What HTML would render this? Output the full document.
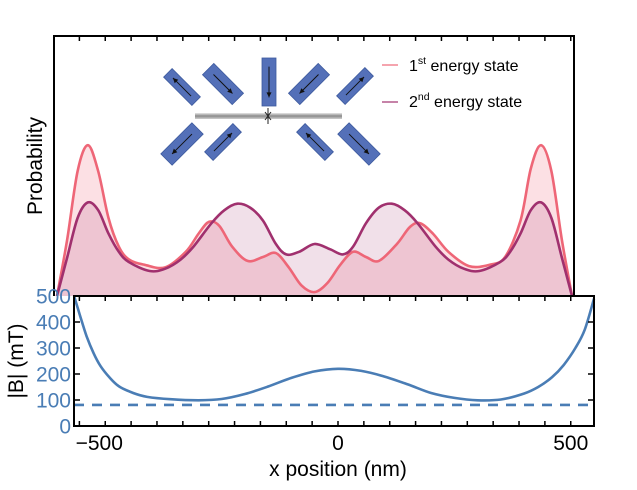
<!DOCTYPE html>
<html><head><meta charset="utf-8">
<style>
html,body{margin:0;padding:0;background:#fff;}
svg{display:block;font-family:"Liberation Sans",Arial,sans-serif;}
</style></head>
<body>
<svg id="chart" width="637" height="490" viewBox="0 0 637 490" xmlns="http://www.w3.org/2000/svg">
  <g id="upper"></g>
  <g id="inset"></g>
  <g id="legend">
    <line x1="382" y1="65" x2="398" y2="65" stroke="#ee6677" stroke-width="1.2"/>
    <text x="409" y="71" font-size="16">1<tspan font-size="10.5" dy="-7">st</tspan><tspan dy="7"> energy state</tspan></text>
    <line x1="382" y1="102" x2="398" y2="102" stroke="#a0306e" stroke-width="1.2"/>
    <text x="409" y="107" font-size="16">2<tspan font-size="10.5" dy="-7">nd</tspan><tspan dy="7"> energy state</tspan></text>
  </g>
  <g id="lower"></g>
  <text transform="translate(42,166) rotate(-90)" text-anchor="middle" font-size="21">Probability</text>
  <text transform="translate(23,361) rotate(-90)" text-anchor="middle" font-size="21">|B| (mT)</text>
  <text x="338" y="476" text-anchor="middle" font-size="21">x position (nm)</text>
</svg>
<script>
// ---- data ----
const probX1 = [-500,-480,-460,-440,-420,-400,-380,-360,-330,-290,-250,-225,-205,-185,-160,-130,-100,-75,-50,-25,0,25,50,75,100,125,160,185,205,230,260,300,340,370,400,420,440,460,480,500];
const probFirst = [0,0.22,0.48,0.58,0.48,0.30,0.19,0.14,0.12,0.11,0.17,0.24,0.285,0.27,0.19,0.135,0.15,0.165,0.11,0.04,0.015,0.05,0.12,0.17,0.15,0.135,0.20,0.265,0.28,0.24,0.17,0.115,0.12,0.15,0.29,0.49,0.58,0.48,0.22,0];
const probX2 = [-500,-480,-460,-440,-420,-400,-380,-360,-320,-290,-260,-235,-200,-175,-150,-125,-100,-75,-55,-30,0,30,55,75,100,125,150,175,200,235,260,290,320,360,380,400,420,440,460,480,500];
const probSecond = [0,0.15,0.30,0.36,0.33,0.24,0.17,0.13,0.096,0.105,0.14,0.19,0.28,0.33,0.355,0.34,0.29,0.20,0.16,0.17,0.20,0.18,0.16,0.19,0.28,0.34,0.355,0.33,0.28,0.19,0.14,0.105,0.096,0.13,0.17,0.24,0.33,0.36,0.30,0.15,0];
const fieldX = [-567,-555,-540,-525,-510,-490,-470,-440,-410,-360,-300,-250,-200,-150,-100,-50,0,50,100,150,200,250,300,350,400,430,460,485,510,530,550];
const fieldB = [500,430,345,280,230,185,152,127,112,103,99,104,123,152,185,210,220,212,190,160,127,108,99,102,125,150,188,235,300,370,490];
const thresholdB = 81;
const yTicks = [0,100,200,300,400,500];
const xTickLabels = [-500,0,500];

const NS="http://www.w3.org/2000/svg";
function mk(tag, attrs, parent){const e=document.createElementNS(NS,tag);for(const k in attrs)e.setAttribute(k,attrs[k]);parent.appendChild(e);return e;}

const upX = u => 57 + (u+500)*0.515;
const upY = p => 296 - p*260;
const loX = x => 338 + x*0.4655;
const loY = b => 426 - b*0.26;

function smoothPath(pts){
  let d = `M${pts[0][0]},${pts[0][1]}`;
  for(let i=0;i<pts.length-1;i++){
    const p0=pts[i-1]||pts[i], p1=pts[i], p2=pts[i+1], p3=pts[i+2]||p2;
    const c1=[p1[0]+(p2[0]-p0[0])/6, p1[1]+(p2[1]-p0[1])/6];
    const c2=[p2[0]-(p3[0]-p1[0])/6, p2[1]-(p3[1]-p1[1])/6];
    d += ` C${c1[0].toFixed(1)},${c1[1].toFixed(1)} ${c2[0].toFixed(1)},${c2[1].toFixed(1)} ${p2[0].toFixed(1)},${p2[1].toFixed(1)}`;
  }
  return d;
}

// ---- upper panel ----
const up = document.getElementById('upper');
const pts1 = probX1.map((u,i)=>[upX(u),upY(probFirst[i])]);
const pts2 = probX2.map((u,i)=>[upX(u),upY(probSecond[i])]);
const d1 = smoothPath(pts1), d2 = smoothPath(pts2);
const f1 = mk('path',{d:d1+` L${upX(500)},296 L${upX(-500)},296 Z`,fill:'#f06478','fill-opacity':'0.2',stroke:'none'},up);


const f2 = mk('path',{d:d2+` L${upX(500)},296 L${upX(-500)},296 Z`,fill:'#a0306e','fill-opacity':'0.15',stroke:'none'},up);


const l1 = mk('path',{d:d1,fill:'none',stroke:'#ee6677','stroke-width':'2.6'},up);


const l2 = mk('path',{d:d2,fill:'none',stroke:'#a0306e','stroke-width':'2.6'},up);


const upFrame = mk('path',{d:'M54,296 L54,36 L574,36 L574,296',fill:'none',stroke:'#000','stroke-width':'2'},up);


for(let k=-2;k<=19;k++){
  const px = loX(-500 + k*1000/18);
  if(px>56 && px<572){
    const t = mk('line',{x1:px,y1:36,x2:px,y2:41,stroke:'#000','stroke-width':'1.5'},up);
    
    
  }
}

// ---- inset magnets ----
const ins = document.getElementById('inset');
const barG = mk('linearGradient',{id:'barg',x1:0,y1:0,x2:0,y2:1},ins);
[['0','#e8e8e8'],['0.5','#8a8a8a'],['1','#d0d0d0']].forEach(s=>mk('stop',{offset:s[0],'stop-color':s[1]},barG));
const bar = mk('rect',{x:195,y:113,width:147,height:6,fill:'url(#barg)'},ins);


mk('path',{d:'M268,108 L268,124 M265,112 L271,120 M271,112 L265,120',stroke:'#222','stroke-width':'1'},ins);
const magnets = [
  [182,87,45,40,12,-1],[223,84,45,42,16,1],[269,82,90,48,14,1],[309,84,-45,42,16,-1],[355,86,-45,40,12,1],
  [182,144,-45,44,16,-1],[223,142,-45,40,12,1],[315,142,45,40,12,-1],[359,144,45,44,16,1]
];
magnets.forEach((m,i)=>{
  const g = mk('g',{transform:`translate(${m[0]},${m[1]}) rotate(${m[2]})`},ins);
  
  
  mk('rect',{x:-m[3]/2,y:-m[4]/2,width:m[3],height:m[4],fill:'#5470b8',stroke:'#3d5a9e','stroke-width':'0.8'},g);
  const a = m[5]*m[3]*0.32;
  mk('line',{x1:-a,y1:0,x2:a,y2:0,stroke:'#111','stroke-width':'1'},g);
  mk('path',{d:`M${a},0 L${a-m[5]*5},-2.5 L${a-m[5]*5},2.5 Z`,fill:'#111'},g);
});

// ---- lower panel ----
const lo = document.getElementById('lower');
const bg = mk('rect',{x:74,y:296,width:520,height:130,fill:'#fff'},lo);


const bPts = fieldX.map((x,i)=>[loX(x),loY(fieldB[i])]);
const bl = mk('path',{d:smoothPath(bPts),fill:'none',stroke:'#4a7db5','stroke-width':'2.6'},lo);


const th = mk('line',{x1:74,y1:loY(thresholdB),x2:594,y2:loY(thresholdB),stroke:'#4a7db5','stroke-width':'2.6','stroke-dasharray':'10,8'},lo);


const loFrame = mk('rect',{x:74,y:296,width:520,height:130,fill:'none',stroke:'#000','stroke-width':'2'},lo);


for(let k=-2;k<=19;k++){
  const px = loX(-500 + k*1000/18);
  if(px>76 && px<592){
    const t1 = mk('line',{x1:px,y1:426,x2:px,y2:421,stroke:'#000','stroke-width':'1.5'},lo);
    
    
    const t2 = mk('line',{x1:px,y1:296,x2:px,y2:301,stroke:'#000','stroke-width':'1.5'},lo);
    
    
  }
}
yTicks.forEach(v=>{
  const y = loY(v);
  const t = mk('text',{x:71,y:y+7.5,'text-anchor':'end','font-size':'21',fill:'#4a7db5'},lo);
  t.textContent = v;
  
  
  const tl = mk('line',{x1:74,y1:y,x2:80,y2:y,stroke:'#000','stroke-width':'1.5'},lo);
  
  
  const tr = mk('line',{x1:594,y1:y,x2:588,y2:y,stroke:'#000','stroke-width':'1.5'},lo);
  
  
});
xTickLabels.forEach(v=>{
  const t = mk('text',{x:loX(v)+(v<0?-6:0),y:450,'text-anchor':'middle','font-size':'21',fill:'#000'},lo);
  t.textContent = v<0 ? '\u2212'+Math.abs(v) : String(v);
  
  
});
</script>
</body></html>
